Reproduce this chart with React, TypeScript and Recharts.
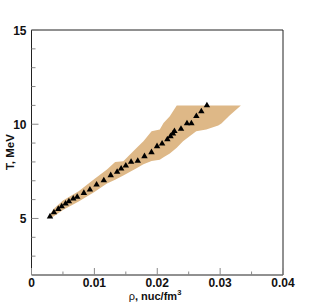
import React from "react";
import { ComposedChart, Area, Scatter, XAxis, YAxis, ZAxis, ReferenceArea, Label } from "recharts";

// band (shaded region): density, lower and upper temperature edge
const bandRho = [0.0026, 0.0035, 0.005, 0.0075, 0.01, 0.012, 0.0133, 0.0146, 0.0167, 0.0178, 0.0191, 0.0204, 0.021, 0.022, 0.0231, 0.0241, 0.0262, 0.0278, 0.0297, 0.0302, 0.0315, 0.0333];
const bandLow = [5.02, 5.1, 5.45, 5.9, 6.4, 6.85, 7.05, 7.28, 7.67, 7.88, 8.05, 8.12, 8.25, 8.45, 8.75, 9.1, 9.63, 9.72, 9.93, 10.04, 10.46, 11.0];
const bandHigh = [5.02, 5.5, 5.95, 6.45, 7.1, 7.6, 8.0, 8.03, 8.74, 9.1, 9.63, 9.72, 10.07, 10.43, 11.0, 11.0, 11.0, 11.0, 11.0, 11.0, 11.0, 11.0];

// triangles
const pointRho = [0.00294, 0.00357, 0.00426, 0.0048, 0.00542, 0.00595, 0.00664, 0.00727, 0.00833, 0.00929, 0.01035, 0.0115, 0.0126, 0.01362, 0.01426, 0.015, 0.01584, 0.0169, 0.01797, 0.01908, 0.01997, 0.02077, 0.02161, 0.0221, 0.0225, 0.02273, 0.02378, 0.02473, 0.02543, 0.02622, 0.02701, 0.0279];
const pointT = [5.1, 5.32, 5.5, 5.64, 5.78, 5.9, 6.05, 6.14, 6.35, 6.53, 6.79, 7.02, 7.29, 7.47, 7.64, 7.8, 8.0, 8.05, 8.3, 8.51, 8.83, 8.97, 9.19, 9.36, 9.5, 9.63, 9.75, 10.04, 10.04, 10.43, 10.68, 11.0];

const xTicks = [0, 0.005, 0.01, 0.015, 0.02, 0.025, 0.03, 0.035, 0.04];
const xMajor = [0, 0.01, 0.02, 0.03, 0.04];
const yTicks = [3, 4, 5, 6, 7, 8, 9, 10, 11, 12, 13, 14, 15];
const yMajor = [5, 10, 15];

const bandData = bandRho.map((x, i) => ({ x, band: [bandLow[i], bandHigh[i]] }));
const points = pointRho.map((x, i) => ({ x, y: pointT[i] }));

const font = "'Liberation Sans', Arial, sans-serif";

const XTick = (props: any) => {
  const { x, y, payload } = props;
  const v = payload.value;
  const major = xMajor.some((m) => Math.abs(m - v) < 1e-9);
  return (
    <g>
      <line x1={x} x2={x} y1={y} y2={y - (major ? 7 : 3.5)} stroke="#888" />
      {major && (
        <text x={x} y={y + 11.5} textAnchor="middle" fontFamily={font} fontWeight="bold" fontSize={12} fill="#111">
          {v === 0 ? "0" : v.toFixed(2)}
        </text>
      )}
    </g>
  );
};

const YTick = (props: any) => {
  const { x, y, payload } = props;
  const v = payload.value;
  const major = yMajor.includes(v);
  return (
    <g>
      <line x1={x} x2={x + (major ? 7 : 4)} y1={y} y2={y} stroke="#888" />
      {major && (
        <text x={x - 5} y={y + 5} textAnchor="end" fontFamily={font} fontWeight="bold" fontSize={12} fill="#111">
          {v}
        </text>
      )}
    </g>
  );
};

export default function App() {
  return (
    <div style={{ position: "absolute", left: 0, top: 0, background: "#fff" }}>
      <ComposedChart width={315} height={306} data={bandData} margin={{ top: 30, right: 32, bottom: 0, left: 0 }}>
        <XAxis
          dataKey="x"
          type="number"
          domain={[0, 0.04]}
          ticks={xTicks}
          interval={0}
          height={31}
          axisLine={false}
          tickLine={false}
          tickSize={0}
          tickMargin={0}
          tick={<XTick />}
        >
          <Label
            content={() => (
              <text x={155} y={299.5} textAnchor="middle" fontFamily={font} fontSize={11} fill="#111">
                <tspan>ρ</tspan>
                <tspan fontWeight="bold">, nuc/fm</tspan>
                <tspan fontWeight="bold" fontSize={7.5} dy={-4.5}>3</tspan>
              </text>
            )}
          />
        </XAxis>
        <YAxis
          type="number"
          domain={[2, 15]}
          ticks={yTicks}
          interval={0}
          width={31.5}
          axisLine={false}
          tickLine={false}
          tickSize={0}
          tickMargin={0}
          tick={<YTick />}
        >
          <Label
            content={() => (
              <text x={14} y={152} transform="rotate(-90 14 152)" textAnchor="middle" fontFamily={font} fontWeight="bold" fontSize={11.5} fill="#111">
                T, MeV
              </text>
            )}
          />
        </YAxis>
        <ZAxis range={[18, 18]} />
        <Area dataKey="band" type="linear" stroke="none" fill="#DEB887" fillOpacity={1} isAnimationActive={false} />
        <Scatter data={points} dataKey="y" shape="triangle" fill="#000" isAnimationActive={false} />
        <ReferenceArea x1={0} x2={0.04} y1={2} y2={15} fill="none" stroke="#222" strokeWidth={1} />
      </ComposedChart>
    </div>
  );
}
